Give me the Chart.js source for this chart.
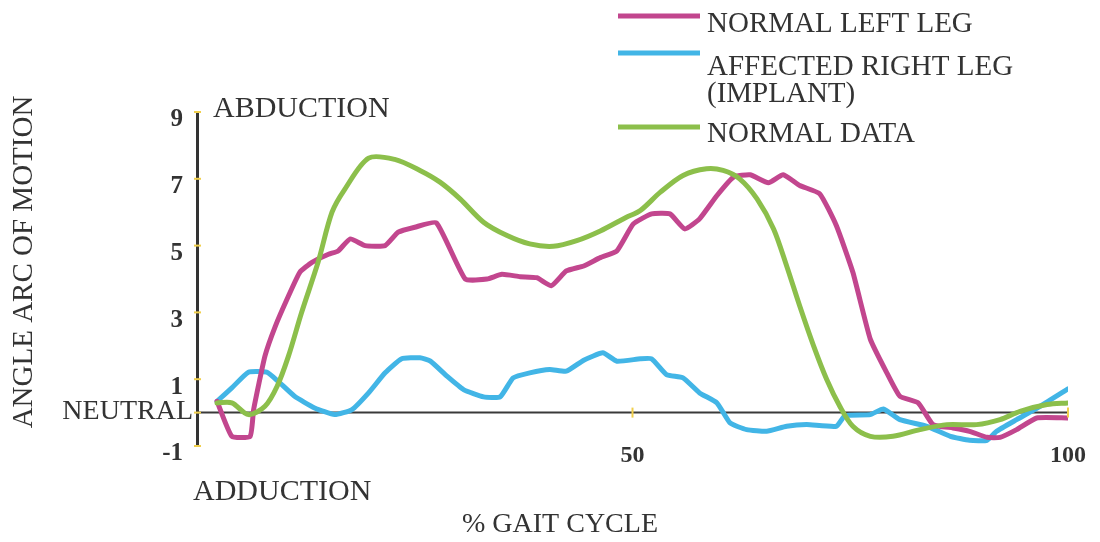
<!DOCTYPE html>
<html>
<head>
<meta charset="utf-8">
<script src="https://cdn.jsdelivr.net/npm/chart.js@4.4.1/dist/chart.umd.min.js"></script>
<style>
  html, body { margin: 0; padding: 0; background: #ffffff; }
  #wrap { width: 1100px; height: 542px; }
</style>
</head>
<body>
<div id="wrap"><canvas id="c" width="1100" height="542"></canvas></div>
<script>
// ---- data ----
const seriesNames = ["NORMAL LEFT LEG", "AFFECTED RIGHT LEG\n(IMPLANT)", "NORMAL DATA"];

const leftLegX = [2.3, 4.0, 6.1, 6.5, 7.8, 9.0, 10.5, 11.8, 13.2, 15.1, 16.2, 17.6, 19.3, 21.6, 23.1, 25.0, 27.5, 30.8, 33.3, 35.0, 37.1, 39.0, 40.7, 42.4, 44.4, 46.3, 48.2, 50.1, 52.2, 54.3, 56.0, 57.7, 59.7, 61.6, 63.5, 65.6, 67.3, 69.2, 71.5, 73.4, 75.3, 77.3, 79.2, 80.7, 82.8, 84.5, 86.8, 88.7, 90.7, 92.2, 94.1, 96.4, 100];
const leftLegY = [0.34, -0.71, -0.71, 0.09, 1.69, 2.59, 3.49, 4.2, 4.5, 4.74, 4.84, 5.2, 5.0, 5.0, 5.4, 5.55, 5.68, 4.0, 4.0, 4.14, 4.07, 4.04, 3.8, 4.24, 4.39, 4.64, 4.84, 5.65, 5.95, 5.95, 5.5, 5.8, 6.5, 7.05, 7.12, 6.88, 7.12, 6.8, 6.55, 5.6, 4.2, 2.2, 1.19, 0.49, 0.29, -0.36, -0.46, -0.56, -0.74, -0.74, -0.51, -0.16, -0.16];

const rightLegX = [2.3, 4.0, 5.9, 8.0, 9.3, 11.2, 13.5, 15.8, 17.8, 19.7, 21.6, 23.5, 25.6, 26.8, 28.7, 30.6, 32.9, 34.8, 36.3, 38.2, 40.5, 42.4, 44.4, 46.6, 48.2, 50.9, 52.2, 53.9, 55.8, 57.7, 59.7, 61.2, 63.1, 65.4, 67.7, 70.0, 73.4, 74.4, 77.3, 78.8, 80.7, 83.8, 86.5, 88.7, 90.7, 91.8, 94.1, 96.8, 100];
const rightLegY = [0.34, 0.74, 1.21, 1.21, 0.94, 0.49, 0.14, -0.06, 0.09, 0.59, 1.19, 1.61, 1.64, 1.54, 1.09, 0.69, 0.47, 0.47, 1.04, 1.19, 1.29, 1.24, 1.57, 1.79, 1.54, 1.61, 1.61, 1.14, 1.04, 0.59, 0.29, -0.31, -0.51, -0.56, -0.41, -0.36, -0.41, -0.09, -0.06, 0.11, -0.21, -0.41, -0.71, -0.83, -0.83, -0.56, -0.21, 0.19, 0.71];

const normalX = [2.3, 4.0, 5.9, 7.8, 9.2, 10.5, 12.0, 13.9, 15.5, 17.0, 19.7, 22.7, 25.6, 27.9, 30.2, 32.9, 35.6, 38.2, 40.9, 43.6, 46.3, 49.3, 50.9, 53.2, 55.8, 58.5, 60.4, 62.3, 64.3, 66.2, 67.7, 69.2, 70.8, 72.3, 73.8, 75.3, 77.3, 79.9, 83.0, 86.1, 89.5, 92.2, 94.5, 97.6, 100];
const normalY = [0.29, 0.29, -0.06, 0.19, 0.79, 1.69, 2.99, 4.5, 6.0, 6.7, 7.62, 7.58, 7.25, 6.9, 6.4, 5.7, 5.3, 5.05, 4.98, 5.15, 5.44, 5.85, 6.05, 6.6, 7.1, 7.3, 7.25, 7.0, 6.4, 5.5, 4.39, 3.19, 1.99, 0.99, 0.19, -0.41, -0.71, -0.71, -0.51, -0.36, -0.36, -0.21, 0.04, 0.24, 0.29];

const yTickValues = [-1, 1, 3, 5, 7, 9];
const xTickValues = [0, 50, 100];
const xTickLabels = ["", "50", "100"];

// ---- build ----
const toPts = (xs, ys) => xs.map((x, i) => ({ x: x, y: ys[i] }));
const SERIF = "'Liberation Serif', 'Times New Roman', serif";
const TEXT = '#333333';
const TICKYELLOW = '#f0cf4c';

const annot = {
  id: 'annot',
  afterDraw(chart) {
    const ctx = chart.ctx;
    const ca = chart.chartArea;
    const xs = chart.scales.x, ys = chart.scales.y;
    const y0 = ys.getPixelForValue(0);
    ctx.save();
    // yellow tick marks on the vertical axis
    ctx.strokeStyle = TICKYELLOW;
    ctx.lineWidth = 2;
    yTickValues.forEach(v => {
      const py = ys.getPixelForValue(v);
      ctx.beginPath(); ctx.moveTo(ca.left - 3, py); ctx.lineTo(ca.left + 4, py); ctx.stroke();
    });
    ctx.beginPath(); ctx.moveTo(ca.left - 3, y0); ctx.lineTo(ca.left + 4, y0); ctx.stroke();
    // yellow tick marks on the neutral line
    xTickValues.slice(1).forEach(v => {
      const px = xs.getPixelForValue(v);
      ctx.beginPath(); ctx.moveTo(px, y0 - 5); ctx.lineTo(px, y0 + 5); ctx.stroke();
    });

    ctx.fillStyle = TEXT;
    ctx.textBaseline = 'middle';
    ctx.font = '30px ' + SERIF;
    ctx.textAlign = 'left';
    ctx.fillText('ABDUCTION', ca.left + 16, ys.getPixelForValue(9) - 3);
    ctx.fillText('ADDUCTION', ca.left - 4, ca.bottom + 46);
    ctx.textAlign = 'right';
    ctx.font = '28px ' + SERIF;
    ctx.fillText('NEUTRAL', ca.left - 4, y0 - 1);

    // axis titles
    ctx.textAlign = 'center';
    ctx.font = '28px ' + SERIF;
    ctx.fillText('% GAIT CYCLE', 560, ca.bottom + 79);
    ctx.save();
    ctx.translate(24, 262);
    ctx.rotate(-Math.PI / 2);
    ctx.font = '29px ' + SERIF;
    ctx.fillText('ANGLE ARC OF MOTION', 0, 0);
    ctx.restore();

    // legend
    const legendY = [[16, 24], [53, 67], [127, 134]];
    chart.data.datasets.forEach((ds, i) => {
      const [ly, ty] = legendY[i];
      ctx.strokeStyle = ds.borderColor;
      ctx.lineWidth = 5;
      ctx.beginPath(); ctx.moveTo(618, ly); ctx.lineTo(700, ly); ctx.stroke();
      ctx.fillStyle = TEXT;
      ctx.textAlign = 'left';
      ctx.font = '29px ' + SERIF;
      ds.label.split('\n').forEach((line, k) => {
        ctx.fillText(line, 707, ty + k * 27);
      });
    });
    ctx.restore();
  }
};

new Chart(document.getElementById('c'), {
  type: 'line',
  data: {
    datasets: [
      { label: seriesNames[0], data: toPts(leftLegX, leftLegY), borderColor: '#c2468e', order: 2, tension: 0.15 },
      { label: seriesNames[1], data: toPts(rightLegX, rightLegY), borderColor: '#42b5e6', order: 3, tension: 0.15 },
      { label: seriesNames[2], data: toPts(normalX, normalY), borderColor: '#8cbf4b', order: 1, tension: 0.3 }
    ]
  },
  options: {
    responsive: false,
    animation: false,
    devicePixelRatio: 1,
    layout: { padding: { top: 112, right: 32, left: 0, bottom: 0 } },
    elements: {
      point: { radius: 0 },
      line: { borderWidth: 5, borderJoinStyle: 'round', borderCapStyle: 'round', fill: false }
    },
    plugins: { legend: { display: false }, tooltip: { enabled: false } },
    scales: {
      x: {
        type: 'linear', min: 0, max: 100,
        afterBuildTicks: s => { s.ticks = xTickValues.map(v => ({ value: v })); },
        afterFit: s => { s.height = 96; },
        grid: { display: false, drawTicks: false },
        border: { display: false },
        ticks: {
          padding: -5,
          color: TEXT,
          font: { family: SERIF, size: 24, weight: 'bold' },
          callback: (v) => xTickLabels[xTickValues.indexOf(v)],
          maxRotation: 0, autoSkip: false
        }
      },
      y: {
        type: 'linear', min: -1, max: 9,
        afterBuildTicks: s => { s.ticks = yTickValues.map(v => ({ value: v })); },
        afterFit: s => { s.width = 197; },
        grid: {
          drawTicks: false,
          color: () => 'rgba(0,0,0,0)'
        },
        border: { display: true, color: '#333333', width: 3 },
        ticks: {
          padding: 14,
          labelOffset: 8,
          color: TEXT,
          font: { family: SERIF, size: 25, weight: 'bold' },
          autoSkip: false
        }
      }
    }
  },
  plugins: [annot, {
    id: 'zeroLine',
    beforeDatasetsDraw(chart) {
      const ctx = chart.ctx, ca = chart.chartArea;
      const py = chart.scales.y.getPixelForValue(0);
      ctx.save();
      ctx.strokeStyle = '#3a3a3a';
      ctx.lineWidth = 2;
      ctx.beginPath(); ctx.moveTo(ca.left, py); ctx.lineTo(ca.right, py); ctx.stroke();
      ctx.restore();
    }
  }]
});
</script>
</body>
</html>
